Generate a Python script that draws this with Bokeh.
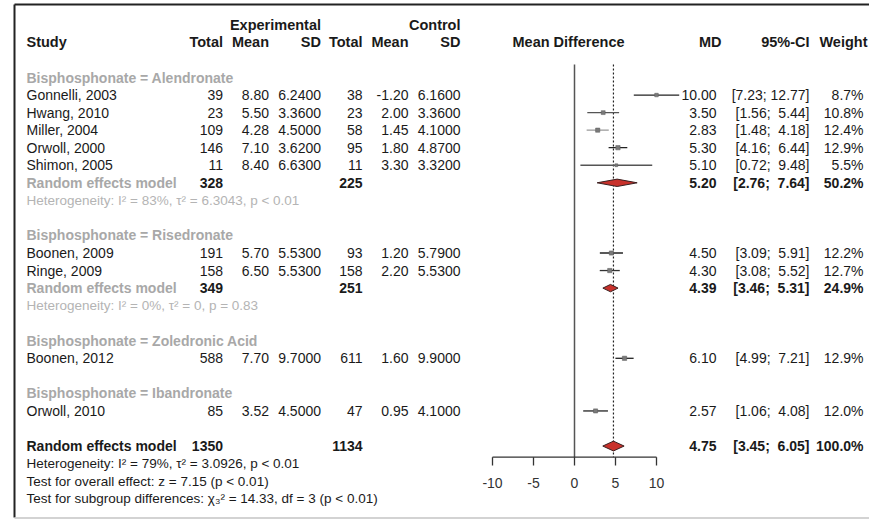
from bokeh.plotting import figure
from bokeh.models import Range1d, ColumnDataSource
from bokeh.embed import file_html
from bokeh.resources import INLINE
from bokeh.core.properties import value

# ---------------- data ----------------
group_names = ["Alendronate", "Risedronate", "Zoledronic Acid", "Ibandronate"]
study_names = ["Gonnelli, 2003", "Hwang, 2010", "Miller, 2004", "Orwoll, 2000", "Shimon, 2005",
               "Boonen, 2009", "Ringe, 2009", "Boonen, 2012", "Orwoll, 2010"]
study_group = [0, 0, 0, 0, 0, 1, 1, 2, 3]
exp_total = [39, 23, 109, 146, 11, 191, 158, 588, 85]
exp_mean = [8.80, 5.50, 4.28, 7.10, 8.40, 5.70, 6.50, 7.70, 3.52]
exp_sd = [6.24, 3.36, 4.50, 3.62, 6.63, 5.53, 5.53, 9.70, 4.50]
ctl_total = [38, 23, 58, 95, 11, 93, 158, 611, 47]
ctl_mean = [-1.20, 2.00, 1.45, 1.80, 3.30, 1.20, 2.20, 1.60, 0.95]
ctl_sd = [6.16, 3.36, 4.10, 4.87, 3.32, 5.79, 5.53, 9.90, 4.10]
md = [10.00, 3.50, 2.83, 5.30, 5.10, 4.50, 4.30, 6.10, 2.57]
ci_lower = [7.23, 1.56, 1.48, 4.16, 0.72, 3.09, 3.08, 4.99, 1.06]
ci_upper = [12.77, 5.44, 4.18, 6.44, 9.48, 5.91, 5.52, 7.21, 4.08]
weight = [8.7, 10.8, 12.4, 12.9, 5.5, 12.2, 12.7, 12.9, 12.0]

sub_exp_total = [328, 349, None, None]
sub_ctl_total = [225, 251, None, None]
sub_md = [5.20, 4.39, None, None]
sub_lower = [2.76, 3.46, None, None]
sub_upper = [7.64, 5.31, None, None]
sub_weight = [50.2, 24.9, None, None]
sub_het = ["Heterogeneity: I² = 83%, τ² = 6.3043, p < 0.01",
           "Heterogeneity: I² = 0%, τ² = 0, p = 0.83", None, None]

overall_exp_total = 1350
overall_ctl_total = 1134
overall_md = 4.75
overall_lower = 3.45
overall_upper = 6.05
overall_weight = 100.0
overall_notes = ["Heterogeneity: I² = 79%, τ² = 3.0926, p < 0.01",
                 "Test for overall effect: z = 7.15 (p < 0.01)",
                 "Test for subgroup differences: χ₃² = 14.33, df = 3 (p < 0.01)"]

axis_ticks = [-10, -5, 0, 5, 10]

# ---------------- layout constants ----------------
W, H = 869, 519
ROW0_PX, ROW_PX = 77.0, 17.55          # pixel of row 0 and row height
ZERO_PX, UNIT_PX = 574.0, 8.2          # pixel of MD=0 and pixels per MD unit


def px2row(py):
    return (py - ROW0_PX) / ROW_PX


FONT = value("Liberation Sans")
BLACK = "#1a1a1a"
GRAY = "#a8a8a8"
BODY = "14px"
HEAD = "14.5px"
NOTE = "13.5px"

COL = dict(study=26, et=222.5, em=268.5, esd=320.5, ct=362, cm=408, csd=460,
           md=716, ci=809, w=863)

p = figure(width=W, height=H, x_range=Range1d(0, W),
           y_range=Range1d(px2row(H), px2row(0)),
           output_backend="svg", toolbar_location=None,
           x_axis_type=None, y_axis_type=None, min_border=0,
           min_border_left=0, min_border_right=0, min_border_top=0, min_border_bottom=0)
p.extra_x_ranges = {"md": Range1d(-ZERO_PX / UNIT_PX, (W - ZERO_PX) / UNIT_PX)}
p.grid.visible = False
p.outline_line_color = None
p.background_fill_color = "white"
p.border_fill_color = "white"

texts = []


def T(x, y, s, align="left", bold=False, color=BLACK, size=BODY):
    texts.append((x, y, s, align, bold, color, size))


def fci(lo, up):
    u = f"{up:.2f}"
    pad = "\u00a0" * (5 - len(u))
    return f"[{lo:.2f}; {pad}{u}]"


# headers
T(COL["esd"], -3, "Experimental", "right", True, BLACK, HEAD)
T(COL["csd"], -3, "Control", "right", True, BLACK, HEAD)
T(COL["study"], -2, "Study", "left", True, BLACK, HEAD)
for key, lab in [("et", "Total"), ("em", "Mean"), ("esd", "SD"),
                 ("ct", "Total"), ("cm", "Mean"), ("csd", "SD")]:
    T(COL[key], -2, lab, "right", True, BLACK, HEAD)
T(568, -2, "Mean Difference", "center", True, BLACK, HEAD)
T(721, -2, "MD", "right", True, BLACK, HEAD)
T(COL["ci"], -2, "95%-CI", "right", True, BLACK, HEAD)
T(867, -2, "Weight", "right", True, BLACK, HEAD)

# rows
study_rows = [None] * len(study_names)
sub_rows = [None] * len(group_names)
row = 0
for g, gname in enumerate(group_names):
    T(COL["study"], row, f"Bisphosphonate = {gname}", "left", True, GRAY)
    row += 1
    for i, sg in enumerate(study_group):
        if sg != g:
            continue
        study_rows[i] = row
        T(COL["study"], row, study_names[i])
        T(COL["et"], row, f"{exp_total[i]}", "right")
        T(COL["em"], row, f"{exp_mean[i]:.2f}", "right")
        T(COL["esd"], row, f"{exp_sd[i]:.4f}", "right")
        T(COL["ct"], row, f"{ctl_total[i]}", "right")
        T(COL["cm"], row, f"{ctl_mean[i]:.2f}", "right")
        T(COL["csd"], row, f"{ctl_sd[i]:.4f}", "right")
        T(COL["md"], row, f"{md[i]:.2f}", "right")
        T(COL["ci"], row, fci(ci_lower[i], ci_upper[i]), "right")
        T(COL["w"], row, f"{weight[i]:.1f}%", "right")
        row += 1
    if sub_md[g] is not None:
        sub_rows[g] = row
        T(COL["study"], row, "Random effects model", "left", True, GRAY)
        T(COL["et"], row, f"{sub_exp_total[g]}", "right", True)
        T(COL["ct"], row, f"{sub_ctl_total[g]}", "right", True)
        T(COL["md"], row, f"{sub_md[g]:.2f}", "right", True)
        T(COL["ci"], row, fci(sub_lower[g], sub_upper[g]), "right", True)
        T(COL["w"], row, f"{sub_weight[g]:.1f}%", "right", True)
        row += 1
        T(COL["study"], row, sub_het[g], "left", False, "#b4b4b4", NOTE)
        row += 1
    row += 1

overall_row = row
T(COL["study"], row, "Random effects model", "left", True)
T(COL["et"], row, f"{overall_exp_total}", "right", True)
T(COL["ct"], row, f"{overall_ctl_total}", "right", True)
T(COL["md"], row, f"{overall_md:.2f}", "right", True)
T(COL["ci"], row, fci(overall_lower, overall_upper), "right", True)
T(COL["w"], row, f"{overall_weight:.1f}%", "right", True)
for k, note in enumerate(overall_notes):
    T(COL["study"], row + 1 + k, note, "left", False, BLACK, NOTE)

# axis geometry (rows)
axis_y = px2row(456.7)
tick_y = px2row(465.0)
ticklab_y = px2row(482.0)
top_y = px2row(64.0)

# draw texts grouped
groups = {}
for x, y, s, align, bold, color, size in texts:
    groups.setdefault((align, bold, size), []).append((x, y, s, color))
for (align, bold, size), items in groups.items():
    src = ColumnDataSource(dict(x=[a[0] for a in items], y=[a[1] for a in items],
                                text=[a[2] for a in items], color=[a[3] for a in items]))
    p.text(x="x", y="y", text="text", source=src, text_color="color",
           text_align=align, text_baseline="middle", text_font=FONT,
           text_font_size=size, text_font_style="bold" if bold else "normal")

# ---------------- forest marks ----------------
# reference lines
p.segment(x0=[0], y0=[top_y], x1=[0], y1=[axis_y], x_range_name="md",
          line_color="#555555", line_width=1.5)
p.segment(x0=[overall_md], y0=[top_y], x1=[overall_md], y1=[axis_y], x_range_name="md",
          line_color="#222222", line_width=1.2, line_dash="2 2")

# study CIs and squares
line_cols = ["#222222", "#555555", "#999999", "#222222", "#555555",
             "#222222", "#333333", "#222222", "#222222"]
ssrc = ColumnDataSource(dict(y=study_rows, md=md, lo=ci_lower, up=ci_upper,
                             sz=[1.2 * (w ** 0.5) for w in weight], lc=line_cols))
p.segment(x0="lo", y0="y", x1="up", y1="y", source=ssrc, x_range_name="md",
          line_color="lc", line_width=1.3)
p.scatter(x="md", y="y", size="sz", marker="square", source=ssrc, x_range_name="md",
          fill_color="#7a7a7a", line_color="#5a5a5a", line_width=0.5)

# diamonds
d_md = [sub_md[g] for g in range(len(group_names)) if sub_md[g] is not None] + [overall_md]
d_lo = [sub_lower[g] for g in range(len(group_names)) if sub_md[g] is not None] + [overall_lower]
d_up = [sub_upper[g] for g in range(len(group_names)) if sub_md[g] is not None] + [overall_upper]
d_row = [r for r in sub_rows if r is not None] + [overall_row]
d_half = [0.21] * (len(d_row) - 1) + [0.28]
xs = [[lo, m, up, m] for lo, m, up in zip(d_lo, d_md, d_up)]
ys = [[r, r - h, r, r + h] for r, h in zip(d_row, d_half)]
p.patches(xs=xs, ys=ys, x_range_name="md", fill_color="#c8312b",
          line_color="#3a2020", line_width=1.0)

# x axis
p.segment(x0=[min(axis_ticks)], y0=[axis_y], x1=[max(axis_ticks)], y1=[axis_y],
          x_range_name="md", line_color="#333333", line_width=1.3)
p.segment(x0=axis_ticks, y0=[axis_y] * len(axis_ticks), x1=axis_ticks,
          y1=[tick_y] * len(axis_ticks), x_range_name="md", line_color="#333333", line_width=1.3)
p.text(x=axis_ticks, y=[ticklab_y] * len(axis_ticks), text=[str(t) for t in axis_ticks],
       x_range_name="md", text_align="center", text_baseline="middle",
       text_font=FONT, text_font_size="14px", text_color="#333333")

# frame border (decoration)
p.segment(x0=[14, 14], y0=[px2row(4), px2row(4)], x1=[14, W], y1=[px2row(517), px2row(4)],
          line_color="#222222", line_width=2)
p.segment(x0=[14], y0=[px2row(517.5)], x1=[W], y1=[px2row(517.5)],
          line_color="#c4c4c4", line_width=1.5)

open("out.html", "w").write(file_html(p, INLINE))
